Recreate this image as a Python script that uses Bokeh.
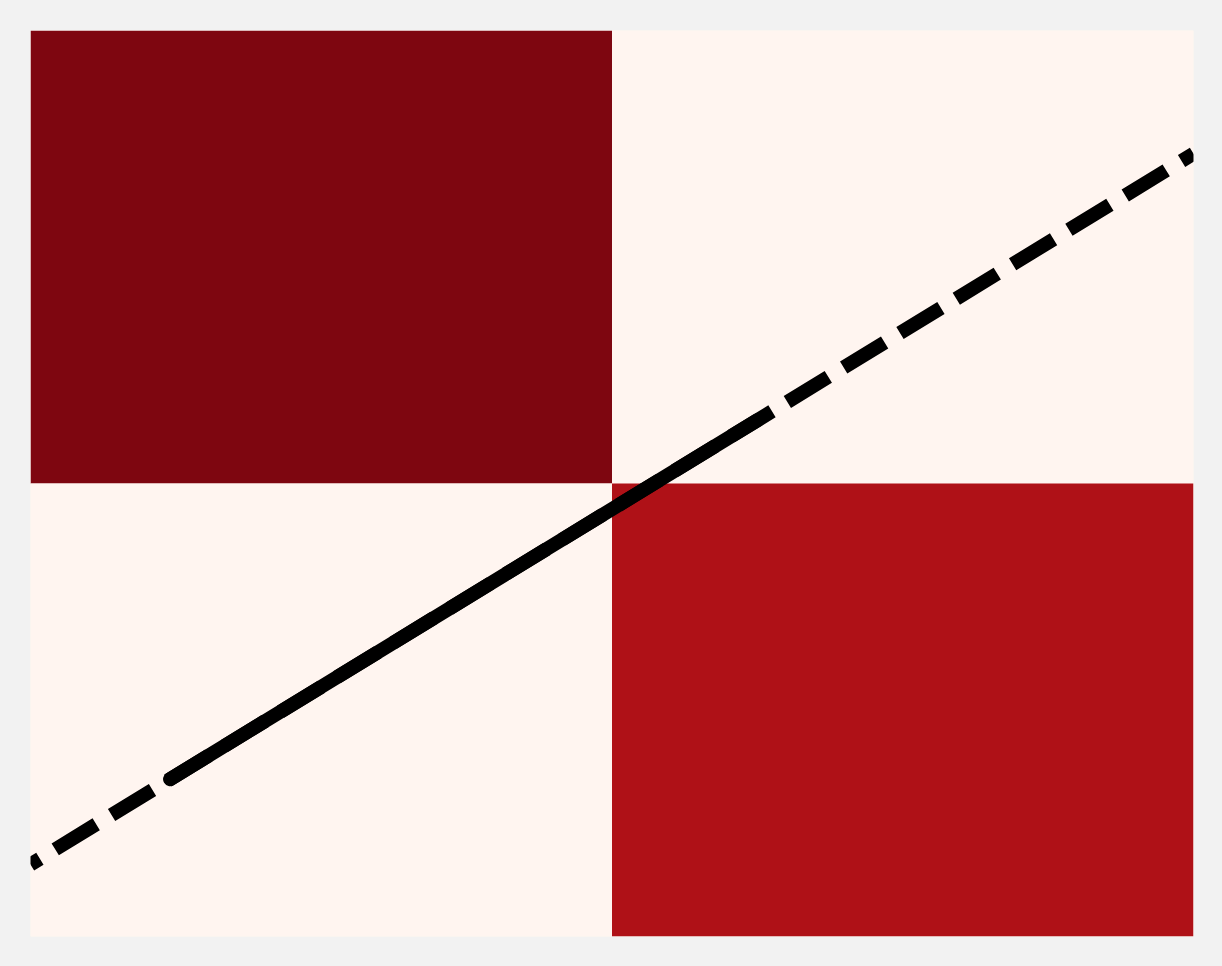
from bokeh.plotting import figure
from bokeh.models import ColumnDataSource, LinearColorMapper, Range1d, GlobalInlineStyleSheet
from bokeh.transform import transform
from bokeh.embed import file_html
from bokeh.resources import INLINE

# --- data ---
cell_x = [0.5, 1.5, 0.5, 1.5]
cell_y = [1.5, 1.5, 0.5, 0.5]
cell_value = [0.95, 0.0, 0.0, 0.84]

line_x = [0.0, 2.0]
line_y = [0.159, 1.728]
fit_x = [0.24, 1.25]
fit_y = [0.159 + 0.7845 * 0.24, 0.159 + 0.7845 * 1.25]

# Reds palette (light -> dark), interpolated to 256 steps
reds9 = ['#fff5f0', '#fee0d2', '#fcbba1', '#fc9272', '#fb6a4a',
         '#ef3b2c', '#cb181d', '#a50f15', '#67000d']

def hex2rgb(h):
    return tuple(int(h[i:i + 2], 16) for i in (1, 3, 5))

palette = []
n = 256
for i in range(n):
    t = i / (n - 1) * (len(reds9) - 1)
    k = min(int(t), len(reds9) - 2)
    f = t - k
    a, b = hex2rgb(reds9[k]), hex2rgb(reds9[k + 1])
    c = tuple(round(a[j] + (b[j] - a[j]) * f) for j in range(3))
    palette.append('#%02x%02x%02x' % c)

mapper = LinearColorMapper(palette=palette, low=0.0, high=1.0)

p = figure(width=1214, height=958, output_backend="svg", toolbar_location=None,
           x_range=Range1d(0, 2), y_range=Range1d(0, 2),
           min_border_left=30, min_border_right=21, min_border_top=30, min_border_bottom=22)
p.axis.visible = False
p.grid.visible = False
p.outline_line_color = None
p.border_fill_color = "#f2f2f2"
p.background_fill_color = "#fff5f0"
p.stylesheets = [GlobalInlineStyleSheet(css="body{background:#f2f2f2;}")]

src = ColumnDataSource(dict(x=cell_x, y=cell_y, v=cell_value))
p.rect(x='x', y='y', width=1, height=1, source=src,
       fill_color=transform('v', mapper), line_color=None)

p.line(line_x, line_y, line_color="black", line_width=14,
       line_dash="48 18", line_dash_offset=37)
p.line(fit_x, fit_y, line_color="black", line_width=14, line_cap="round")

open("out.html", "w").write(file_html(p, INLINE))
